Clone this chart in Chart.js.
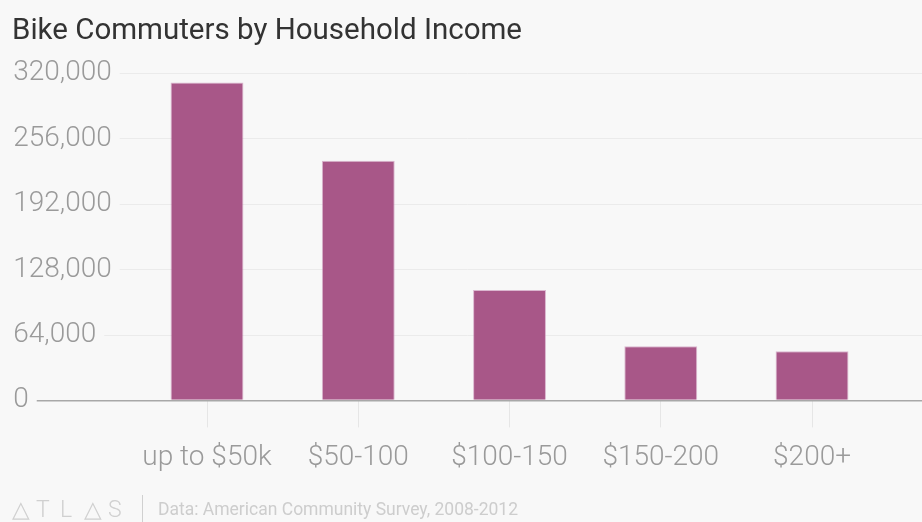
<!DOCTYPE html>
<html>
<head>
<meta charset="utf-8">
<script src="https://cdn.jsdelivr.net/npm/chart.js@4"></script>
<style>
  html, body { margin: 0; padding: 0; background: #f8f8f8; }
  #wrap { width: 922px; height: 522px; position: relative; }
</style>
</head>
<body>
<div id="wrap"><canvas id="incomeChart" width="922" height="522"></canvas></div>
<script>
// données
const categories = ['up to $50k', '$50-100', '$100-150', '$150-200', '$200+']
const commuters = [311000, 234500, 108000, 53000, 48000]
const yTicks = [0, 64000, 128000, 192000, 256000, 320000]
const sourceText = 'Data: American Community Survey, 2008-2012'

const BG = '#f8f8f8'

// pied de page : logo ATLAS + source
const footerPlugin = {
  id: 'footer',
  afterDraw(chart) {
    const ctx = chart.ctx
    ctx.save()
    ctx.fillStyle = '#d0d0d0'
    ctx.font = '300 23px Roboto'
    ctx.textBaseline = 'middle'
    const letters = ['\u25B3', 'T', 'L', '\u25B3', 'S']
    letters.forEach((l, i) => ctx.fillText(l, 12 + i * 24, 511))
    ctx.fillRect(142, 495, 1, 27)
    ctx.fillStyle = '#cdcdcd'
    ctx.font = '17.5px Roboto'
    ctx.fillText(sourceText, 158, 511)
    ctx.restore()
  },
}

new Chart(document.getElementById('incomeChart'), {
  type: 'bar',
  data: {
    datasets: [
      {
        data: commuters.map((v, i) => ({ x: i, y: v })),
        backgroundColor: '#a85788',
        borderColor: 'rgba(200, 140, 180, 0.6)',
        borderWidth: 1,
        borderSkipped: 'bottom',
        categoryPercentage: 1,
        barPercentage: 0.482,
      },
    ],
  },
  options: {
    responsive: false,
    animation: false,
    layout: { padding: { left: 12, right: 0, top: 0, bottom: 33 } },
    plugins: {
      legend: { display: false },
      tooltip: { enabled: false },
      title: {
        display: true,
        text: 'Bike Commuters by Household Income',
        align: 'start',
        color: '#333333',
        font: { family: 'Roboto', size: 29.5, weight: '400' },
        padding: { top: 14, bottom: 24 },
      },
    },
    scales: {
      x: {
        type: 'linear',
        offset: false,
        min: -1.284,
        max: 4.727,
        afterBuildTicks(scale) {
          scale.ticks = categories.map((_, i) => ({ value: i }))
        },
        border: { display: false },
        grid: {
          offset: false,
          drawOnChartArea: false,
          drawTicks: true,
          tickLength: 27,
          color: '#e6e6e6',
        },
        ticks: {
          autoSkip: false,
          maxRotation: 0,
          padding: 14,
          color: '#9a9a9a',
          font: { family: 'Roboto', size: 28, weight: '300' },
          callback: (v) => categories[v],
        },
      },
      y: {
        min: 0,
        max: 320000,
        afterBuildTicks(scale) {
          scale.ticks = yTicks.map((v) => ({ value: v }))
        },
        border: { display: false },
        grid: {
          drawTicks: false,
          color: (c) => (c.tick && c.tick.value === 0 ? '#a8a8a8' : '#ebebeb'),
          lineWidth: (c) => (c.tick && c.tick.value === 0 ? 1.5 : 1),
        },
        ticks: {
          mirror: true,
          padding: 0.4,
          color: '#9a9a9a',
          font: { family: 'Roboto', size: 28, weight: '300' },
          showLabelBackdrop: true,
          backdropColor: BG,
          backdropPadding: { left: 14, right: 8, top: 0, bottom: 0 },
          callback: (v) => v.toLocaleString('en-US'),
        },
      },
    },
  },
  plugins: [footerPlugin],
})
</script>
</body>
</html>
